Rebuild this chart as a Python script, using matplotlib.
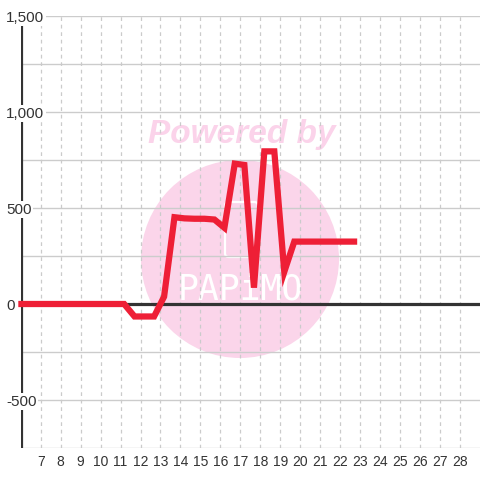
import matplotlib
matplotlib.use("Agg")
import matplotlib.pyplot as plt
import matplotlib.transforms as mtransforms
from matplotlib.patches import Circle, FancyBboxPatch

# ---- data ----
days = [5.88, 11.18, 11.70, 12.20, 12.68, 13.18, 13.70, 14.20, 14.70, 15.20, 15.70,
        16.20, 16.72, 17.20, 17.68, 18.20, 18.70, 19.20, 19.70, 20.20, 20.70,
        21.20, 21.70, 22.20, 22.85]
values = [0, 0, -65, -65, -65, 38, 452, 446, 444, 444, 440,
          397, 731, 724, 85, 795, 795, 168, 325, 325, 325,
          325, 325, 325, 325]
x_ticks = list(range(7, 29))
y_label_values = [-500, 0, 500, 1000, 1500]
y_label_texts = ["-500", "0", "500", "1,000", "1,500"]
y_grid = [-750, -500, -250, 0, 250, 500, 750, 1000, 1250, 1500]

W = H = 480
plt.rcParams['font.family'] = ['Liberation Sans', 'DejaVu Sans']
fig = plt.figure(figsize=(4.8, 4.8), dpi=100)
fig.patch.set_facecolor('white')

def fx(px):
    return px / W

def fy(py):
    return 1 - py / H

ax = fig.add_axes([fx(20.7), fy(448), fx(480 - 20.7), 432 / H])
ax.set_xlim(6, 29)
ax.set_ylim(-750, 1500)
ax.set_facecolor('white')

# watermark (behind grid)
circ = Circle((fx(240), fy(259)), 99 / W, transform=fig.transFigure,
              facecolor='#fbd5ea', edgecolor='none', zorder=0.2, clip_on=False)
ax.add_artist(circ)
ax.text(fx(242), fy(134), "Powered by", fontsize=24, fontweight='bold',
        fontstyle='italic', color='#fbd3ea', ha='center', va='center', zorder=0.2,
        transform=fig.transFigure)
logo = FancyBboxPatch((fx(225), fy(257)), 33 / W, 55 / H,
                      boxstyle="round,pad=0,rounding_size=0.008",
                      transform=fig.transFigure, facecolor='none',
                      edgecolor='white', linewidth=1.6, zorder=0.5, clip_on=False)
ax.add_artist(logo)
ax.text(fx(240), fy(289), "PAPiMO", fontsize=25, color='white',
        ha='center', va='center', zorder=0.5, family='DejaVu Sans Mono',
        fontweight='light', transform=fig.transFigure)

# grid
for yv in y_grid:
    ax.axhline(yv, color='#cccccc', lw=1, zorder=1)
for xv in x_ticks:
    ax.axvline(xv, color='#cbcbcb', lw=0.9, ls=(0, (3, 3)), zorder=1)

ax.axhline(0, color='#333333', lw=2.3, zorder=2)
ax.axvline(6, color='#333333', lw=2.3, zorder=2)

for s in ax.spines.values():
    s.set_visible(False)

ax.plot(days, values, color='#ee1f36', lw=4.5, zorder=3,
        solid_joinstyle='miter', solid_capstyle='butt', clip_on=False)

ax.set_xticks(x_ticks)
ax.set_xticklabels([str(v) for v in x_ticks], fontsize=10, color='#333333')
ax.tick_params(axis='x', length=0, pad=5)
ax.set_yticks([])

ytrans = mtransforms.blended_transform_factory(fig.transFigure, ax.transData)
offset = mtransforms.ScaledTranslation(0, -1.5 / 100, fig.dpi_scale_trans)
for v, t in zip(y_label_values, y_label_texts):
    ax.text(fx(6), v, t, transform=ytrans + offset,
            fontsize=11, color='#333333', ha='left', va='center', zorder=5,
            bbox=dict(facecolor='white', edgecolor='none', pad=1.0))

fig.savefig("out.png", dpi=100, facecolor='white')
